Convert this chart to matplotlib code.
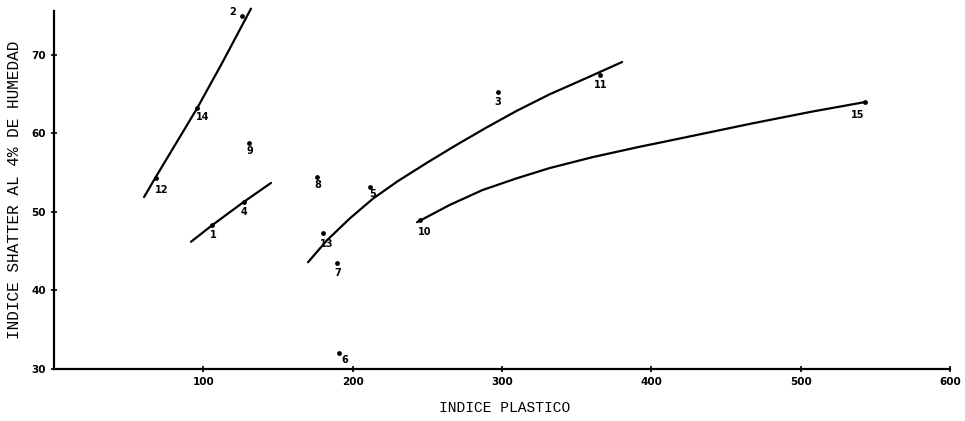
import matplotlib
matplotlib.use('Agg')
import matplotlib.pyplot as plt

# puntos medidos (indice plastico, indice shatter)
labels = ['1', '2', '3', '4', '5', '6', '7', '8', '9', '10', '11', '12', '13', '14', '15']
ip = [105.8, 125.9, 297.3, 127.2, 211.6, 190.9, 189.5, 176.1, 130.6, 245.1, 365.6, 68.3, 180.1, 95.8, 543.1]
shatter = [48.3, 75.0, 65.3, 51.3, 53.2, 32.0, 43.5, 54.5, 58.8, 49.0, 67.5, 54.3, 47.3, 63.2, 64.0]
# desplazamiento de cada etiqueta respecto al punto (pixeles)
lab_dx = [1, -9, 0, 0, 3, 6, 1, 1, 1, 5, 1, 6, 4, 6, -7]
lab_dy = [-10, 4, -10, -10, -7, -7, -10, -8, -8, -12, -10, -12, -11, -9, -13]

# curvas trazadas a mano
curva_a_x = [60.3, 68.3, 95.8, 113.2, 131.9]
curva_a_y = [51.9, 54.5, 63.2, 69.2, 75.9]
curva_b_x = [91.7, 105.8, 127.2, 145.3]
curva_b_y = [46.2, 48.3, 51.3, 53.7]
curva_c_x = [170.1, 182.8, 198.2, 213.6, 230.0, 250.0, 270.0, 290.0, 310.0, 332.0, 357.0, 380.4]
curva_c_y = [43.6, 46.4, 49.2, 51.7, 53.9, 56.3, 58.6, 60.8, 62.9, 65.0, 67.1, 69.1]
curva_d_x = [243.1, 265.0, 287.0, 310.0, 332.0, 361.0, 392.0, 410.0, 468.0, 508.0, 543.1]
curva_d_y = [48.7, 50.9, 52.8, 54.3, 55.6, 57.0, 58.3, 59.0, 61.3, 62.8, 64.0]

xticks = [100, 200, 300, 400, 500, 600]
yticks = [30, 40, 50, 60, 70]

W, H = 965, 421
fig = plt.figure(figsize=(W / 100, H / 100), dpi=100)
ax = fig.add_axes([54 / W, (H - 369) / H, (W - 54) / W, 369 / H])
ax.set_xlim(0, 610)
ax.set_ylim(30, 77)

for cx, cy in [(curva_a_x, curva_a_y), (curva_b_x, curva_b_y),
               (curva_c_x, curva_c_y), (curva_d_x, curva_d_y)]:
    ax.plot(cx, cy, color='black', lw=1.6, solid_capstyle='round', solid_joinstyle='round')

ax.scatter(ip, shatter, s=6, color='black', zorder=3)
for i in range(len(labels)):
    ax.annotate(labels[i], (ip[i], shatter[i]), xytext=(lab_dx[i] * 0.72, lab_dy[i] * 0.72),
                textcoords='offset points', ha='center', va='center',
                fontsize=7, fontweight='bold', color='black')

for s in ['top', 'right']:
    ax.spines[s].set_visible(False)
ax.spines['left'].set_linewidth(1.6)
ax.spines['bottom'].set_linewidth(1.6)
ax.spines['left'].set_bounds(30, 75.6)
ax.spines['bottom'].set_bounds(0, 600)

ax.set_xticks(xticks)
ax.set_yticks(yticks)
ax.tick_params(direction='inout', length=4, width=1.2, labelsize=7.5, pad=4)
for t in ax.get_xticklabels() + ax.get_yticklabels():
    t.set_fontweight('bold')

fig.text(505 / W, 1 - 408 / H, 'INDICE PLASTICO', ha='center', va='center',
         fontsize=10.5, family='Liberation Mono')
fig.text(15 / W, 1 - 190 / H, 'INDICE SHATTER AL 4% DE HUMEDAD', ha='center', va='center',
         rotation=90, fontsize=11.5, family='Liberation Mono')

fig.savefig('out.png', dpi=100, facecolor='white')
